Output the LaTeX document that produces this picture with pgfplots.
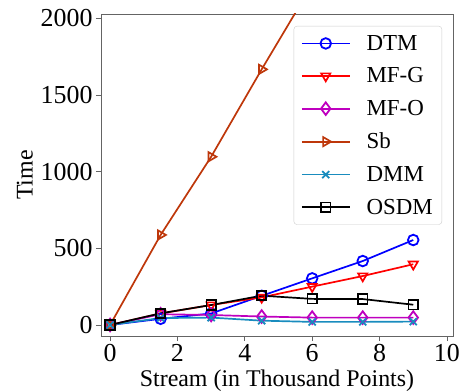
\documentclass[border=0pt]{standalone}
\usepackage{fontspec}
\setmainfont{Liberation Serif}
\usepackage{pgfplots}
\pgfplotsset{compat=1.18}
\definecolor{cSb}{RGB}{190,55,10}
\definecolor{cDMM}{RGB}{25,140,190}
\definecolor{cMFO}{RGB}{191,0,191}
\definecolor{spine}{RGB}{100,100,100}
\begin{document}
\begin{tikzpicture}
\begin{axis}[
  scale only axis,
  width=352bp, height=322bp,
  xmin=-0.27, xmax=10.18,
  ymin=-72, ymax=2028,
  xtick={0,2,4,6,8,10},
  ytick={0,500,1000,1500,2000},
  xtick pos=bottom, ytick pos=left,
  axis line style={spine, line width=0.8bp},
  tick align=outside,
  major tick length=5bp,
  tick style={spine, line width=0.8bp},
  /pgf/number format/assume math mode=true,
  /pgf/number format/1000 sep={},
  ticklabel style={font=\fontsize{26}{30}\selectfont},
  xlabel={Stream (in Thousand Points)},
  ylabel={Time},
  label style={font=\fontsize{24}{28}\selectfont},
  xlabel style={yshift=-1bp},
  ylabel style={yshift=1bp},
  every axis plot/.append style={line width=1.7bp, mark size=5.3bp, mark options={solid, line width=1.8bp, fill=none}},
  legend style={at={(1,1)}, anchor=north east, xshift=-11bp, yshift=-12bp,
    draw=black!20, rounded corners=3bp, font=\fontsize{23}{27}\selectfont,
    row sep=12bp, inner xsep=7bp, inner ysep=7bp,
    /tikz/every odd column/.append style={column sep=14bp}},
  legend cell align=left,
  legend image code/.code={\draw[line width=1.7bp, mark repeat=2,mark phase=2,#1] plot coordinates {(0bp,0bp) (24bp,0bp) (48bp,0bp)};},
  clip=true,
]
\addplot[blue, mark=o] coordinates {(0,0) (1.5,40) (3,75) (4.5,190) (6,304) (7.5,417) (9,554)};
\addlegendentry{DTM}
\addplot[red, mark=triangle, mark options={rotate=180}] coordinates {(0,0) (1.5,75) (3,130) (4.5,180) (6,250) (7.5,319) (9,396)};
\addlegendentry{MF-G}
\addplot[cMFO, mark=diamond, mark size=6.3bp] coordinates {(0,0) (1.5,70) (3,65) (4.5,55) (6,48) (7.5,48) (9,48)};
\addlegendentry{MF-O}
\addplot[cSb, mark=triangle, mark options={rotate=-90}] coordinates {(0,0) (1.5,587) (3,1097) (4.5,1667) (6,2220) (7.5,2780) (9,3330)};
\addlegendentry{Sb}
\addplot[cDMM, mark=x, mark size=5bp] coordinates {(0,0) (1.5,45) (3,48) (4.5,28) (6,20) (7.5,20) (9,22)};
\addlegendentry{DMM}
\addplot[black, mark=square, mark size=4.7bp] coordinates {(0,0) (1.5,76) (3,130) (4.5,191) (6,170) (7.5,169) (9,132)};
\addlegendentry{OSDM}
\end{axis}
\pgfresetboundingbox
\path (current axis.south west) ++(-101bp,-56bp) (current axis.north east) ++(16bp,14bp);
\end{tikzpicture}
\end{document}
